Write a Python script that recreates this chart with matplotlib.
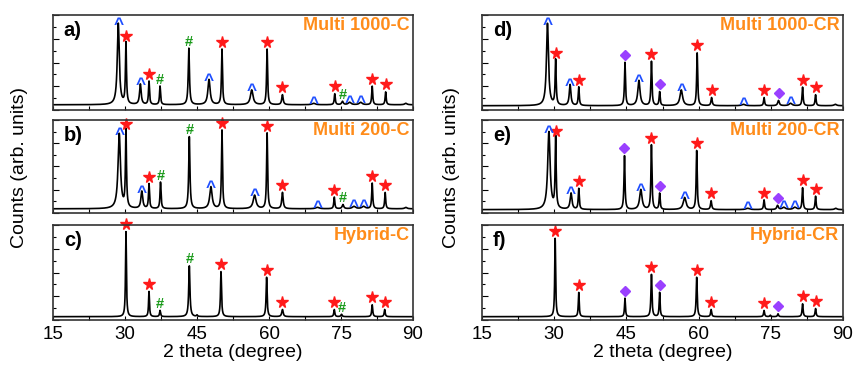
import numpy as np
import matplotlib
matplotlib.use("Agg")
import matplotlib.pyplot as plt
from matplotlib.ticker import MultipleLocator

# peak tables: position (deg), height (axis fraction), width (deg), phase mark
# marks: '^' blue, '*' red, '#' green, 'd' purple diamond, '' unlabelled
pos_a = [28.6, 30.2, 33.2, 35.0, 37.3, 43.3, 47.5, 50.2, 56.4, 59.6, 62.8, 69.3, 73.7, 75.3, 76.8, 79.1, 81.5, 84.3, 88.5]
hgt_a = [0.91, 0.70, 0.27, 0.30, 0.25, 0.65, 0.32, 0.64, 0.21, 0.64, 0.16, 0.07, 0.17, 0.09, 0.08, 0.08, 0.25, 0.19, 0.07]
wid_a = [0.50, 0.25, 0.40, 0.25, 0.25, 0.30, 0.55, 0.25, 0.65, 0.25, 0.35, 0.80, 0.25, 0.40, 0.70, 0.70, 0.25, 0.25, 0.60]
mrk_a = ['^', '*', '^', '*', '#', '#', '^', '*', '^', '*', '*', '^', '*', '#', '^', '^', '*', '*', '']

pos_b = [28.8, 30.2, 33.5, 35.0, 37.4, 43.4, 47.9, 50.2, 57.0, 59.6, 62.8, 70.1, 73.6, 75.4, 77.7, 79.7, 81.5, 84.2, 88.5]
hgt_b = [0.85, 0.875, 0.23, 0.31, 0.33, 0.82, 0.28, 0.89, 0.19, 0.86, 0.22, 0.06, 0.17, 0.09, 0.07, 0.07, 0.32, 0.22, 0.06]
wid_b = [0.60, 0.25, 0.45, 0.25, 0.25, 0.30, 0.60, 0.25, 0.70, 0.25, 0.35, 0.90, 0.25, 0.40, 0.80, 0.80, 0.25, 0.25, 0.60]
mrk_b = ['^', '*', '^', '*', '#', '#', '^', '*', '^', '*', '*', '^', '*', '#', '^', '^', '*', '*', '']

pos_c = [30.2, 35.0, 37.3, 43.4, 45.0, 50.0, 59.5, 62.8, 73.6, 75.1, 81.5, 84.1]
hgt_c = [0.93, 0.30, 0.10, 0.57, 0.05, 0.51, 0.45, 0.11, 0.11, 0.06, 0.16, 0.11]
wid_c = [0.22, 0.22, 0.25, 0.30, 0.25, 0.25, 0.25, 0.35, 0.25, 0.30, 0.25, 0.25]
mrk_c = ['*', '*', '#', '#', '', '*', '*', '*', '*', '#', '*', '*']

pos_d = [28.6, 30.3, 33.3, 35.1, 44.7, 47.6, 50.2, 51.9, 56.4, 59.7, 62.7, 69.3, 73.6, 76.6, 79.1, 81.6, 84.3, 88.4]
hgt_d = [0.91, 0.52, 0.265, 0.24, 0.50, 0.31, 0.51, 0.19, 0.21, 0.60, 0.13, 0.06, 0.13, 0.10, 0.07, 0.24, 0.16, 0.06]
wid_d = [0.50, 0.25, 0.40, 0.25, 0.25, 0.55, 0.25, 0.25, 0.65, 0.25, 0.30, 0.80, 0.25, 0.40, 0.70, 0.25, 0.25, 0.60]
mrk_d = ['^', '*', '^', '*', 'd', '^', '*', 'd', '^', '*', '*', '^', '*', 'd', '^', '*', '*', '']

pos_e = [28.9, 30.3, 33.5, 35.1, 44.6, 48.0, 50.2, 51.9, 57.1, 59.6, 62.6, 70.2, 73.6, 76.4, 77.7, 80.0, 81.6, 84.3, 88.5]
hgt_e = [0.87, 0.80, 0.21, 0.26, 0.615, 0.25, 0.73, 0.21, 0.165, 0.67, 0.13, 0.05, 0.14, 0.08, 0.06, 0.06, 0.27, 0.18, 0.05]
wid_e = [0.60, 0.25, 0.45, 0.25, 0.25, 0.60, 0.25, 0.25, 0.70, 0.25, 0.30, 0.90, 0.25, 0.40, 0.80, 0.80, 0.25, 0.25, 0.60]
mrk_e = ['^', '*', '^', '*', 'd', '^', '*', 'd', '^', '*', '*', '^', '*', 'd', '^', '^', '*', '*', '']

pos_f = [30.2, 35.1, 44.7, 50.2, 51.9, 59.6, 62.6, 73.6, 74.9, 76.5, 81.6, 84.3]
hgt_f = [0.86, 0.29, 0.23, 0.48, 0.29, 0.45, 0.11, 0.10, 0.05, 0.065, 0.17, 0.12]
wid_f = [0.22, 0.22, 0.22, 0.25, 0.22, 0.25, 0.25, 0.25, 0.25, 0.25, 0.25, 0.25]
mrk_f = ['*', '*', 'd', '*', 'd', '*', '*', '*', '', 'd', '*', '*']

letters = ['a)', 'b)', 'c)', 'd)', 'e)', 'f)']
names = ['Multi 1000-C', 'Multi 200-C', 'Hybrid-C', 'Multi 1000-CR', 'Multi 200-CR', 'Hybrid-CR']
baseline = [0.055, 0.045, 0.035, 0.045, 0.036, 0.035]
xticks = [15, 30, 45, 60, 75, 90]

panels = [(pos_a, hgt_a, wid_a, mrk_a), (pos_b, hgt_b, wid_b, mrk_b), (pos_c, hgt_c, wid_c, mrk_c),
          (pos_d, hgt_d, wid_d, mrk_d), (pos_e, hgt_e, wid_e, mrk_e), (pos_f, hgt_f, wid_f, mrk_f)]

plt.rcParams['font.family'] = ['Liberation Sans', 'DejaVu Sans']

fig = plt.figure(figsize=(8.56, 3.75), dpi=100)

col_x = [53 / 856, 482 / 856]
col_w = [360 / 856, 361 / 856]
row_top = [15, 120, 225]
row_bot = [110, 213, 320]

x = np.linspace(15, 90, 6000)

for k, (pp, hh, ww, mm) in enumerate(panels):
    col, row = k // 3, k % 3
    b = 1 - row_bot[row] / 375
    h = (row_bot[row] - row_top[row]) / 375
    ax = fig.add_axes([col_x[col], b, col_w[col], h])

    base = baseline[k]
    y = np.full_like(x, base)
    for p, hgt, w in zip(pp, hh, ww):
        g = (w / 2) ** 2
        y += (hgt - base) * g / ((x - p) ** 2 + g)
    ax.plot(x, y, color='black', lw=1.2)

    for p, hgt, m in zip(pp, hh, mm):
        if m == '*':
            ax.plot(p, hgt + 0.08, marker='*', color='#ff1a1a', ms=8.5, mec='#ff1a1a', clip_on=False)
        elif m == 'd':
            ax.plot(p, hgt + 0.08, marker='D', color='#9a40ff', ms=5.5, mec='#9a40ff', clip_on=False)
        elif m == '^':
            ax.text(p, hgt - 0.085, '^', color='#1f4fff', fontsize=12.5, fontweight='bold',
                    ha='center', va='bottom', clip_on=False)
        elif m == '#':
            ax.text(p, hgt - 0.005, '#', color='#1a9a1a', fontsize=10.5, fontweight='bold',
                    ha='center', va='bottom', clip_on=False)

    ax.set_xlim(15, 90)
    ax.set_ylim(0, 1)
    ticks = [15 + 7.5 * i for i in range(11)]
    ax.set_xticks(ticks)
    ax.yaxis.set_major_locator(MultipleLocator(0.25))
    ax.yaxis.set_minor_locator(MultipleLocator(0.125))
    ax.tick_params(axis='x', direction='in', length=3, width=0.8, top=False)
    ax.tick_params(axis='y', which='major', direction='in', length=4, width=0.8, right=False)
    ax.tick_params(axis='y', which='minor', direction='in', length=2, width=0.8, right=False)
    ax.set_yticklabels([])
    for s in ax.spines.values():
        s.set_color('#333333')
        s.set_linewidth(1.2)

    if row == 2:
        ax.set_xticklabels(['%d' % t if t in xticks else '' for t in ticks], fontsize=13.5)
        ax.tick_params(axis='x', pad=4)
        ax.set_xlabel('2 theta (degree)', fontsize=14, labelpad=1)
    else:
        ax.set_xticklabels([])

    ax.text(0.03, 0.94, letters[k], transform=ax.transAxes, fontsize=14.5, fontweight='bold',
            ha='left', va='top')
    ax.text(0.99, 0.975, names[k], transform=ax.transAxes, fontsize=13, fontweight='bold',
            color='#ff8c1a', ha='right', va='top')

fig.text(20 / 856, 1 - 168 / 375, 'Counts (arb. units)', rotation=90, fontsize=14, ha='center', va='center')
fig.text(452 / 856, 1 - 168 / 375, 'Counts (arb. units)', rotation=90, fontsize=14, ha='center', va='center')

fig.savefig('out.png', dpi=100)
